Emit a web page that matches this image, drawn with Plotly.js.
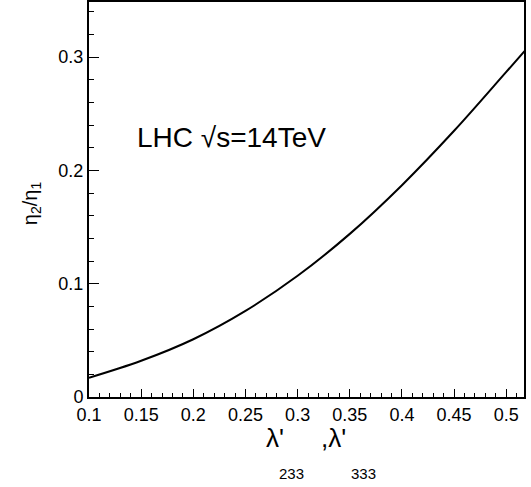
<!DOCTYPE html>
<html>
<head>
<meta charset="utf-8">
<script src="https://cdn.plot.ly/plotly-3.0.1.min.js"></script>
<style>body{margin:0;padding:0;background:#fff;}#chart{width:531px;height:487px;}</style>
</head>
<body>
<div id="chart"></div>
<script>
const lambdaVals = [0.10, 0.15, 0.20, 0.25, 0.30, 0.35, 0.40, 0.45, 0.50, 0.52];
const etaRatio  = [0.017, 0.032, 0.051, 0.076, 0.107, 0.144, 0.187, 0.235, 0.287, 0.308];
const xTitleParts = ["λ'", "233", ",λ'", "333"];
const yTitleText = 'η<sub>2</sub>/η<sub>1</sub>';
const labelText = 'LHC √s=14TeV';

const font = 'Liberation Sans, Arial, Helvetica, sans-serif';
const xRange = [0.1, 0.517];
const yRange = [0, 0.3487];

const trace = {
  x: lambdaVals, y: etaRatio, type: 'scatter', mode: 'lines',
  line: {color: '#000', width: 2, shape: 'spline', smoothing: 1},
  hoverinfo: 'skip', showlegend: false
};
const ghost = {
  x: [xRange[0]], y: [yRange[0]], xaxis: 'x2', yaxis: 'y2', type: 'scatter', mode: 'markers',
  marker: {opacity: 0}, hoverinfo: 'skip', showlegend: false
};

function ann(text, x, y, size, extra) {
  return Object.assign({
    x: x, y: y, xref: 'paper', yref: 'paper', xanchor: 'center', yanchor: 'middle',
    text: text, showarrow: false, font: {family: font, size: size, color: '#000'}
  }, extra || {});
}

const layout = {
  width: 531, height: 487,
  margin: {l: 89, r: 7, t: 2, b: 90},
  paper_bgcolor: '#fff', plot_bgcolor: '#fff',
  font: {family: font, color: '#000', size: 18},
  xaxis: {
    range: xRange, showgrid: false, zeroline: false,
    showline: true, linewidth: 2, linecolor: '#000', mirror: true,
    tickmode: 'linear', tick0: 0.1, dtick: 0.05,
    ticks: 'inside', ticklen: 8, tickwidth: 1, tickcolor: '#000',
    tickfont: {family: font, size: 18, color: '#000'}
  },
  yaxis: {
    range: yRange, showgrid: false, zeroline: false,
    showline: true, linewidth: 2, linecolor: '#000', mirror: true,
    tickmode: 'linear', tick0: 0, dtick: 0.1,
    ticks: 'inside', ticklen: 10, tickwidth: 1, tickcolor: '#000',
    tickfont: {family: font, size: 18, color: '#000'}
  },
  xaxis2: {
    range: xRange, overlaying: 'x', anchor: 'y', side: 'bottom',
    showgrid: false, zeroline: false, showline: false, showticklabels: false,
    tickmode: 'linear', tick0: 0.1, dtick: 0.01,
    ticks: 'inside', ticklen: 4, tickwidth: 1, tickcolor: '#000'
  },
  yaxis2: {
    range: yRange, overlaying: 'y', anchor: 'x', side: 'left',
    showgrid: false, zeroline: false, showline: false, showticklabels: false,
    tickmode: 'linear', tick0: 0, dtick: 0.02,
    ticks: 'inside', ticklen: 5, tickwidth: 1, tickcolor: '#000'
  },
  annotations: [
    {x: 0.144, y: 0.2295, xref: 'x', yref: 'y', xanchor: 'left', yanchor: 'middle',
     text: labelText, showarrow: false, font: {family: font, size: 28, color: '#000'}},
    ann(xTitleParts[0], 0.4276, -0.104, 26),
    ann(xTitleParts[1], 0.466, -0.194, 15),
    ann(xTitleParts[2], 0.561, -0.104, 26),
    ann(xTitleParts[3], 0.632, -0.194, 15),
    ann(yTitleText, -0.133, 0.491, 20, {textangle: -90})
  ]
};

Plotly.newPlot('chart', [trace, ghost], layout, {displayModeBar: false, staticPlot: true});
</script>
</body>
</html>
